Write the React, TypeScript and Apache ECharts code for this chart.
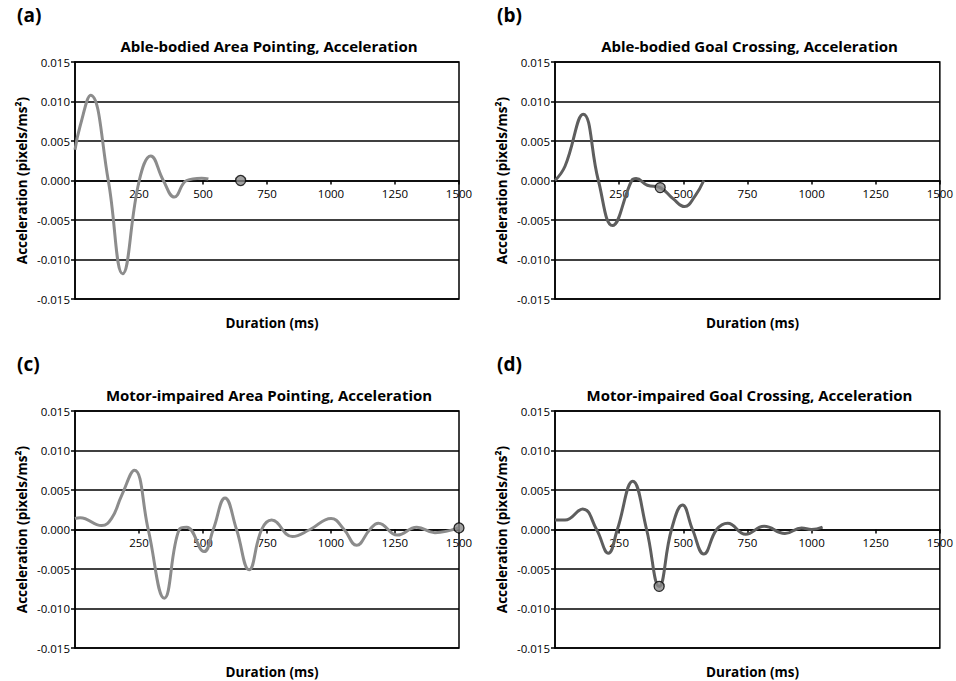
import React, { useEffect, useRef } from "react";
import * as echarts from "echarts";

// Panel labels and titles
const panelLabels = ["(a)", "(b)", "(c)", "(d)"];
const panelTitles = [
  "Able-bodied Area Pointing, Acceleration",
  "Able-bodied Goal Crossing, Acceleration",
  "Motor-impaired Area Pointing, Acceleration",
  "Motor-impaired Goal Crossing, Acceleration",
];
const yAxisTitle = "Acceleration (pixels/ms²)";
const xAxisTitle = "Duration (ms)";

// (a) Able-bodied Area Pointing
const aTime = [0, 20, 61, 130, 186, 251, 296, 345, 388, 436, 495, 521];
const aAccel = [0.0039, 0.0069, 0.0108, 0.0, -0.0118, 0.0, 0.0031, 0.0, -0.0021, 0.0, 0.0003, 0.0002];
const aMarker = [647, 0.0];

// (b) Able-bodied Goal Crossing
const bTime = [0, 39, 110, 169, 224, 299, 316, 360, 410, 460, 505, 545, 580];
const bAccel = [0.0, 0.0018, 0.0084, 0.0, -0.0057, 0.0, 0.00025, -0.0006, -0.0009, -0.0023, -0.0033, -0.002, 0.0];
const bMarker = [410, -0.0009];

// (c) Motor-impaired Area Pointing
const cTime = [0, 20, 104, 143, 182, 232, 286, 349, 407, 436, 504, 540, 586, 631, 680, 729, 768, 849, 918, 1000, 1051, 1100, 1152, 1185, 1259, 1335, 1406, 1497];
const cAccel = [0.0014, 0.0015, 0.0005, 0.0014, 0.0043, 0.0075, 0.0, -0.0087, 0.0, 0.0003, -0.0028, 0.0, 0.004, 0.0, -0.0051, 0.0, 0.0012, -0.0009, 0.0, 0.0014, 0.0, -0.002, 0.0, 0.0008, -0.0007, 0.0003, -0.0004, 0.0002];
const cMarker = [1500, 0.0002];

// (d) Motor-impaired Goal Crossing
const dTime = [0, 39, 108, 162, 208, 243, 303, 357, 406, 454, 497, 536, 580, 630, 673, 743, 815, 896, 961, 1000, 1043];
const dAccel = [0.0012, 0.0012, 0.0026, 0.0, -0.003, 0.0, 0.0061, 0.0, -0.0072, 0.0, 0.0031, 0.0, -0.0031, 0.0, 0.0008, -0.0006, 0.0004, -0.0005, 0.0002, 0.0, 0.0003];
const dMarker = [406, -0.0072];

// Axis ranges / ticks
const xMin = 0;
const xMax = 1500;
const xStep = 250;
const yMin = -0.015;
const yMax = 0.015;
const yStep = 0.005;

const lightGrey = "#8c8c8c";
const darkGrey = "#5e5e5e";
const FONT = "'Open Sans', Lato, sans-serif";

const zip = (t: number[], v: number[]) => t.map((x, i) => [x, v[i]]);

export default function App() {
  const ref = useRef<HTMLDivElement>(null);
  useEffect(() => {
    if (!ref.current) return;
    const chart = echarts.init(ref.current, undefined, { renderer: "svg" });

    const grids = [
      { left: 75, top: 62, width: 384, height: 237 },
      { left: 555, top: 62, width: 385, height: 237 },
      { left: 75, top: 411, width: 384, height: 237 },
      { left: 555, top: 411, width: 385, height: 237 },
    ];
    const series = [
      { t: aTime, v: aAccel, m: aMarker, c: lightGrey },
      { t: bTime, v: bAccel, m: bMarker, c: darkGrey },
      { t: cTime, v: cAccel, m: cMarker, c: lightGrey },
      { t: dTime, v: dAccel, m: dMarker, c: darkGrey },
    ];

    const titles: any[] = [];
    grids.forEach((g, i) => {
      titles.push({
        text: panelLabels[i],
        left: g.left - 63,
        top: g.top - 62,
        textStyle: { fontFamily: FONT, fontWeight: "bold", fontSize: 19, color: "#000" },
      });
      titles.push({
        text: panelTitles[i],
        left: g.left + g.width / 2 - 3,
        top: g.top - 29,
        textAlign: "center",
        textStyle: { fontFamily: FONT, fontWeight: "bold", fontSize: 15, color: "#000" },
      });
      titles.push({
        text: xAxisTitle,
        left: g.left + g.width / 2,
        top: g.top + g.height + 12,
        textAlign: "center",
        textStyle: { fontFamily: FONT, fontWeight: "bold", fontSize: 13.5, color: "#000" },
      });
    });

    const option: any = {
      animation: false,
      backgroundColor: "#fff",
      title: titles,
      grid: grids.map((g) => ({ ...g, show: true, borderColor: "#000", borderWidth: 1.5, backgroundColor: "transparent" })),
      xAxis: grids.map((g, i) => ({
        type: "value",
        gridIndex: i,
        min: xMin,
        max: xMax,
        interval: xStep,
        position: "bottom",
        // the value range is symmetric, so y = 0 sits at the middle of the grid
        offset: -g.height / 2,
        axisLine: { show: true, onZero: false, lineStyle: { color: "#000", width: 1.5 } },
        axisTick: { show: true, length: 4, lineStyle: { color: "#000", width: 1.5 } },
        axisLabel: {
          color: "#000",
          fontFamily: FONT,
          fontSize: 11.5,
          margin: 7,
          formatter: (v: number) => (v === 0 ? "" : String(v)),
        },
        splitLine: { show: false },
      })),
      yAxis: grids.map((_, i) => ({
        type: "value",
        gridIndex: i,
        min: yMin,
        max: yMax,
        interval: yStep,
        name: yAxisTitle,
        nameLocation: "middle",
        nameGap: 46,
        nameTextStyle: { fontFamily: FONT, fontWeight: "bold", fontSize: 13.5, color: "#000" },
        axisLine: { show: true, onZero: false, lineStyle: { color: "#000", width: 1.5 } },
        axisTick: { show: true, length: 4, lineStyle: { color: "#000", width: 1.5 } },
        axisLabel: {
          color: "#000",
          fontFamily: FONT,
          fontSize: 11.5,
          margin: 5,
          formatter: (v: number) => v.toFixed(3),
        },
        splitLine: { show: true, lineStyle: { color: "#000", width: 1.5 } },
      })),
      series: [
        ...series.map((s, i) => ({
          type: "line",
          xAxisIndex: i,
          yAxisIndex: i,
          data: zip(s.t, s.v),
          smooth: 0.45,
          showSymbol: false,
          symbol: "none",
          lineStyle: { color: s.c, width: 3 },
          z: 3,
        })),
        ...series.map((s, i) => ({
          type: "scatter",
          xAxisIndex: i,
          yAxisIndex: i,
          data: [s.m],
          symbol: "circle",
          symbolSize: 10,
          itemStyle: { color: "#8a8a8a", borderColor: "#000", borderWidth: 1.3 },
          z: 5,
        })),
      ],
    };
    chart.setOption(option);
    return () => chart.dispose();
  }, []);
  return <div ref={ref} style={{ position: "fixed", left: 0, top: 0, width: 956, height: 681, background: "#fff" }} />;
}
